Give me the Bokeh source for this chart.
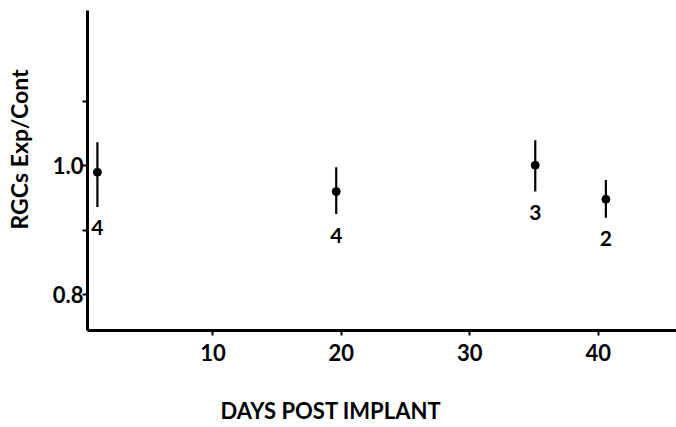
import math
from bokeh.plotting import figure
from bokeh.models import ColumnDataSource, FixedTicker, Range1d, Title, LinearAxis
from bokeh.embed import file_html
from bokeh.resources import INLINE
from bokeh.core.properties import value

# ---- data ----
days = [1.0, 19.6, 35.1, 40.6]
ratio = [0.990, 0.960, 1.001, 0.948]
err_upper = [1.037, 0.998, 1.040, 0.978]
err_lower = [0.936, 0.925, 0.960, 0.919]
n_labels = ["4", "4", "3", "2"]
x_ticks = [10, 20, 30, 40]
y_ticks = [0.8, 0.9, 1.0, 1.1]
y_tick_text = ["0.8", "", "1.0", ""]

FONT = "Lato"

src = ColumnDataSource(dict(days=days, ratio=ratio, upper=err_upper,
                            lower=err_lower, n=n_labels))

p = figure(width=676, height=427, output_backend="svg", toolbar_location=None,
           x_range=Range1d(0.229, 46.1), y_range=Range1d(0.7435, 1.2421),
           min_border_left=87, min_border_right=0, min_border_top=10,
           min_border_bottom=97)
p.outline_line_color = None
p.xgrid.visible = False
p.ygrid.visible = False
p.background_fill_color = "white"
p.border_fill_color = "white"

# error bars, points, n labels
p.segment(x0="days", y0="lower", x1="days", y1="upper", source=src,
          line_color="black", line_width=2.2)
p.scatter(x="days", y="ratio", source=src, size=8, color="black")
p.text(x="days", y="lower", text="n", source=src, y_offset=21,
       text_align="center", text_baseline="middle",
       text_font=value(FONT), text_font_style="bold", text_font_size="21px",
       text_color="black")

# axes
for ax in (p.xaxis[0], p.yaxis[0]):
    ax.axis_line_width = 3
    ax.axis_line_color = "black"
    ax.major_tick_line_width = 2
    ax.major_tick_line_color = "black"
    ax.major_tick_in = 0
    ax.major_tick_out = 5
    ax.minor_tick_line_color = None
    ax.major_label_text_font = FONT
    ax.major_label_text_font_style = "bold"
    ax.major_label_text_font_size = "22px"
    ax.major_label_text_color = "black"

p.xaxis.ticker = FixedTicker(ticks=x_ticks)
p.xaxis.major_label_standoff = 8
p.yaxis.ticker = FixedTicker(ticks=y_ticks)
p.yaxis.major_label_overrides = {t: s for t, s in zip(y_ticks, y_tick_text)}
p.yaxis.major_label_standoff = -1


def spacer(size, at):
    # a blank axis: only reserves room between the axis and its title
    return LinearAxis(ticker=FixedTicker(ticks=[at]), axis_line_color=None,
                      major_tick_line_color="white", major_tick_line_width=1,
                      minor_tick_line_color=None,
                      major_tick_in=0, major_tick_out=size,
                      major_label_standoff=0, major_label_text_alpha=0,
                      major_label_text_font_size="1px",
                      major_label_overrides={at: ""})


# axis titles (spacers keep the titles at the reference's offsets)
p.add_layout(spacer(30, 5), "below")
xt = Title(text="DAYS POST IMPLANT", align="left", offset=133,
           text_font=FONT, text_font_style="bold", text_font_size="22px",
           text_color="black", standoff=2, vertical_align="bottom")
p.add_layout(xt, "below")

p.add_layout(spacer(12, 1.1), "left")
yt = Title(text="RGCs Exp/Cont", align="left", offset=101,
           text_font=FONT, text_font_style="bold", text_font_size="23px",
           text_color="black", standoff=6, vertical_align="top")
p.add_layout(yt, "left")

open("out.html", "w").write(file_html(p, INLINE))
